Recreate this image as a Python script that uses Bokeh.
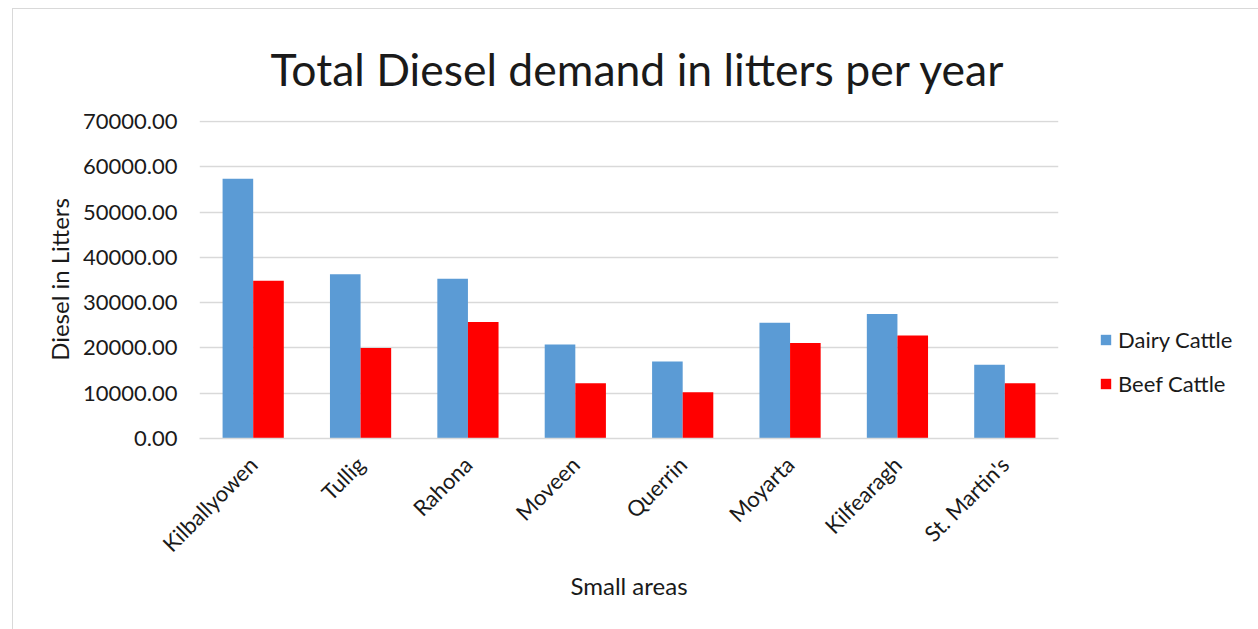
from bokeh.plotting import figure
from bokeh.layouts import row
from bokeh.models import FactorRange, Range1d, NumeralTickFormatter, FixedTicker, Legend, LegendItem
from bokeh.transform import dodge
from bokeh.embed import file_html
from bokeh.resources import INLINE

# Small areas and yearly diesel demand (litres)
areas = ["Kilballyowen", "Tullig", "Rahona", "Moveen", "Querrin", "Moyarta", "Kilfearagh", "St. Martin's"]
dairy_cattle = [57360, 36260, 35300, 20730, 16990, 25560, 27470, 16260]
beef_cattle = [34860, 20000, 25710, 12220, 10240, 21100, 22770, 12220]
y_ticks = [0, 10000, 20000, 30000, 40000, 50000, 60000, 70000]
series_names = ["Dairy Cattle", "Beef Cattle"]
series_cols = ["dairy", "beef"]
series_colors = ["#5B9BD5", "#FF0000"]

FONT = "Lato"
TEXT = "#1a1a1a"
GRID = "#d9d9d9"
src = dict(area=areas, dairy=dairy_cattle, beef=beef_cattle)
offsets = [-0.1425, 0.1425]

p = figure(
    x_range=FactorRange(*areas, range_padding=0),
    y_range=Range1d(0, 70220),
    width=1055, height=621,
    output_backend="svg", toolbar_location=None,
    title="Total Diesel demand in litters per year",
    min_border_left=186, min_border_right=10,
    min_border_top=111, min_border_bottom=192,
)
p.margin = (8, 0, 0, 12)
p.styles = {"border-left": "1px solid #d9d9d9", "border-top": "1px solid #d9d9d9"}

for col, off, color in zip(series_cols, offsets, series_colors):
    p.vbar(x=dodge("area", off, range=p.x_range), top=col, width=0.285,
           source=src, fill_color=color, line_color=None)

p.outline_line_color = None
p.background_fill_color = "white"
p.border_fill_color = "white"

# title
p.title.text_font = FONT
p.title.text_font_size = "44.5px"
p.title.text_font_style = "normal"
p.title.text_color = TEXT
p.title.align = "left"
p.title.offset = 71
p.title.vertical_align = "middle"
p.title.standoff = 50

# grid
p.xgrid.grid_line_color = None
p.ygrid.grid_line_color = GRID
p.ygrid.grid_line_width = 1.3

# y axis
p.yaxis.ticker = FixedTicker(ticks=y_ticks)
p.yaxis.formatter = NumeralTickFormatter(format="0.00")
p.yaxis.axis_line_color = None
p.yaxis.major_tick_line_color = None
p.yaxis.minor_tick_line_color = None
p.yaxis.major_label_standoff = 16
p.yaxis.major_label_text_font = FONT
p.yaxis.major_label_text_font_size = "22px"
p.yaxis.major_label_text_color = TEXT
p.yaxis.axis_label = "Diesel in Litters"
p.yaxis.axis_label_text_font = FONT
p.yaxis.axis_label_text_font_size = "24px"
p.yaxis.axis_label_text_font_style = "normal"
p.yaxis.axis_label_text_color = TEXT
p.yaxis.axis_label_standoff = 6

# x axis
p.xaxis.axis_line_color = GRID
p.xaxis.axis_line_width = 1.3
p.xaxis.major_tick_line_color = None
p.xaxis.minor_tick_line_color = None
p.xaxis.major_label_orientation = 0.7854
p.xaxis.major_label_standoff = 16
p.xaxis.major_label_text_font = FONT
p.xaxis.major_label_text_font_size = "22px"
p.xaxis.major_label_text_color = TEXT
p.xaxis.axis_label = "Small areas"
p.xaxis.axis_label_text_font = FONT
p.xaxis.axis_label_text_font_size = "24px"
p.xaxis.axis_label_text_font_style = "normal"
p.xaxis.axis_label_text_color = TEXT
p.xaxis.axis_label_standoff = 1

# legend panel to the right of the chart; its zero-width bar renderers lie
# outside the visible y range so only the legend swatches show
lg = figure(
    width=191, height=621,
    x_range=FactorRange(*areas), y_range=Range1d(1e7, 2e7),
    x_axis_type=None, y_axis_type=None,
    output_backend="svg", toolbar_location=None,
    min_border=0,
)
lg.margin = (8, 0, 0, 0)
lg.styles = {"border-top": "1px solid #d9d9d9"}
lg.outline_line_color = None
lg.grid.visible = False
swatches = [lg.vbar(x="area", top=col, width=0, source=src, fill_color=color, line_color=None)
            for col, color in zip(series_cols, series_colors)]

legend = Legend(
    items=[LegendItem(label=n, renderers=[r]) for n, r in zip(series_names, swatches)],
    location=(32, 41),
    orientation="vertical",
    glyph_width=13, glyph_height=13,
    label_height=27, spacing=17, label_standoff=6,
    padding=0, margin=0,
    label_text_font=FONT, label_text_font_size="22px", label_text_color=TEXT,
    border_line_color=None, background_fill_alpha=0,
)
lg.add_layout(legend, "center")

layout = row(p, lg, spacing=0)
open("out.html", "w").write(file_html(layout, INLINE))
